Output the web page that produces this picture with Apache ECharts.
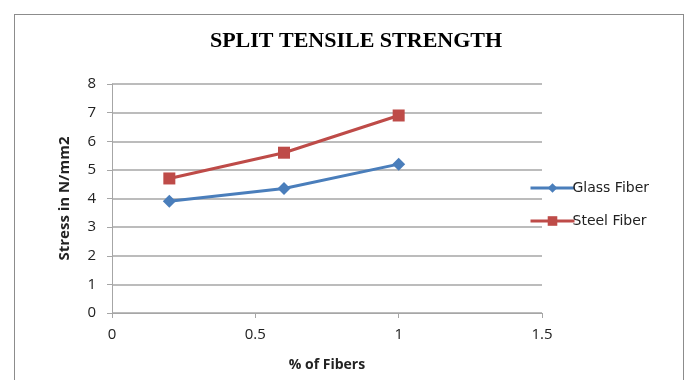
<!DOCTYPE html>
<html>
<head>
<meta charset="utf-8">
<script src="https://cdn.jsdelivr.net/npm/echarts@6/dist/echarts.min.js"></script>
<style>
  html, body { margin: 0; padding: 0; background: #fff; }
  #chart { width: 690px; height: 380px; }
  .frame { position: absolute; left: 14px; top: 14px; width: 668px; height: 380px; border: 1px solid #8c8c8c; border-bottom: none; }
</style>
</head>
<body>
<div class="frame"></div>
<div id="chart" style="position:absolute;left:0;top:0;"></div>
<script>
// 纤维掺量 (%)
var fiberPct = [0.2, 0.6, 1.0];
// 劈裂抗拉强度
var glassFiber = [3.9, 4.35, 5.2];
var steelFiber = [4.7, 5.6, 6.9];

var myChart = echarts.init(document.getElementById('chart'));

function pairs(xs, ys) {
  return xs.map(function (x, i) { return [x, ys[i]]; });
}

var option = {
  title: {
    text: 'SPLIT TENSILE STRENGTH',
    left: 351,
    textAlign: 'center',
    top: 25,
    textStyle: {
      fontFamily: 'Liberation Serif',
      fontWeight: 'bold',
      fontSize: 22,
      color: '#000'
    }
  },
  legend: {
    orient: 'vertical',
    left: 524,
    top: 176,
    itemGap: 19,
    itemWidth: 44,
    itemHeight: 12,
    lineStyle: { width: 3 },
    textStyle: { fontFamily: 'DejaVu Sans', fontSize: 14, color: '#222', padding: [0, 0, 0, -7] },
    data: ['Glass Fiber', 'Steel Fiber']
  },
  grid: { left: 112, right: 148, top: 84, bottom: 67 },
  xAxis: {
    type: 'value',
    min: 0,
    max: 1.5,
    interval: 0.5,
    name: '% of Fibers',
    nameLocation: 'middle',
    nameGap: 45,
    nameTextStyle: { fontFamily: 'Open Sans', fontWeight: 'bold', fontSize: 14, color: '#222' },
    axisLine: { lineStyle: { color: '#a6a6a6' } },
    axisTick: { show: true, length: 5, lineStyle: { color: '#a6a6a6' } },
    axisLabel: { fontFamily: 'Open Sans', fontSize: 15, color: '#222', margin: 14 },
    splitLine: { show: false }
  },
  yAxis: {
    type: 'value',
    min: 0,
    max: 8,
    interval: 1,
    name: 'Stress in N/mm2',
    nameLocation: 'middle',
    nameGap: 40,
    nameTextStyle: { fontFamily: 'Open Sans', fontWeight: 'bold', fontSize: 15, color: '#222' },
    axisLine: { show: true, lineStyle: { color: '#a6a6a6' } },
    axisTick: { show: true, length: 5, lineStyle: { color: '#a6a6a6' } },
    axisLabel: { fontFamily: 'Open Sans', fontSize: 15, color: '#222', margin: 16 },
    splitLine: { lineStyle: { color: '#a6a6a6', width: 1.5 } }
  },
  series: [
    {
      name: 'Glass Fiber',
      type: 'line',
      data: pairs(fiberPct, glassFiber),
      symbol: 'diamond',
      symbolSize: 13,
      color: '#4a7ebb',
      lineStyle: { width: 3, color: '#4a7ebb' },
      itemStyle: { color: '#4a7ebb' }
    },
    {
      name: 'Steel Fiber',
      type: 'line',
      data: pairs(fiberPct, steelFiber),
      symbol: 'rect',
      symbolSize: 12,
      color: '#be4b48',
      lineStyle: { width: 3, color: '#be4b48' },
      itemStyle: { color: '#be4b48' }
    }
  ],
  animation: false
};

myChart.setOption(option);
</script>
</body>
</html>
